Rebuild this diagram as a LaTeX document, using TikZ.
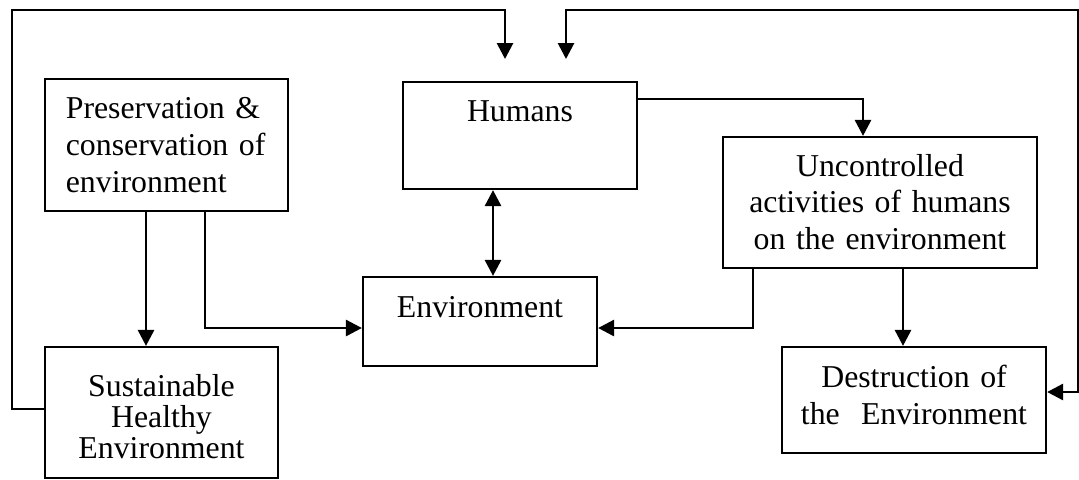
\documentclass[tikz,border=0pt]{standalone}
\usepackage{fontspec}
\setmainfont{Liberation Serif}
\usepackage{tikz}
\usetikzlibrary{arrows.meta}
\tikzset{
  box/.style={draw, line width=1.1pt, inner sep=0pt, align=center, font=\fontsize{15.9pt}{18.5pt}\selectfont},
  line/.style={-{Triangle[length=8pt,width=8pt]}, line width=1.4pt},
  dline/.style={{Triangle[length=8pt,width=8pt]}-{Triangle[length=8pt,width=8pt]}, line width=1.4pt}
}
\begin{document}
\begin{tikzpicture}[x=0.5pt,y=-0.5pt]
  \useasboundingbox (0,0) rectangle (1079,479);

  \node[box, align=left, inner xsep=10.5pt, text width=100.5pt, text height=19.5pt, text depth=46.5pt] (pres) at (166.35,145) {Preservation \&\\conservation of\\environment};
  \node[box, text width=117pt, text height=19.5pt, text depth=34pt] (hum) at (520,135.5) {Humans};
  \node[box, text width=157pt, text height=19.5pt, text depth=46pt, font=\fontsize{15.9pt}{18.25pt}\selectfont] (unc) at (880,202.5) {Uncontrolled\\activities of humans\\on the environment};
  \node[box, text width=117pt, text height=20pt, text depth=24.5pt] (env) at (480,321.5) {Environment};
  \node[box, text width=116.5pt, text height=24.5pt, text depth=41pt, font=\fontsize{15.9pt}{15.5pt}\selectfont] (sus) at (161.5,412.5) {Sustainable\\Healthy\\Environment};
  \node[box, text width=132pt, text height=20pt, text depth=33pt] (des) at (914,400) {Destruction of\\the\ \ Environment};

  \coordinate (loopL) at (505,59);
  \coordinate (loopR) at (566,59);

  \draw[line] (146,0 |- pres.south) -- (146,0 |- sus.north);
  \draw[line] (205,0 |- pres.south) |- (env.west |- 0,328);
  \draw[dline] (493,0 |- hum.south) -- (493,0 |- env.north);
  \draw[line] (hum.east |- 0,99) -| (863,0 |- unc.north);
  \draw[line] (753,0 |- unc.south) |- (env.east |- 0,328);
  \draw[line] (903,0 |- unc.south) -- (903,0 |- des.north);
  % feedback loops over the top
  \draw[line] (sus.west |- 0,409) -| (12,10) -| (loopL);
  \draw[dline] (loopR) |- (1078,10) |- (des.east |- 0,392);
\end{tikzpicture}
\end{document}
